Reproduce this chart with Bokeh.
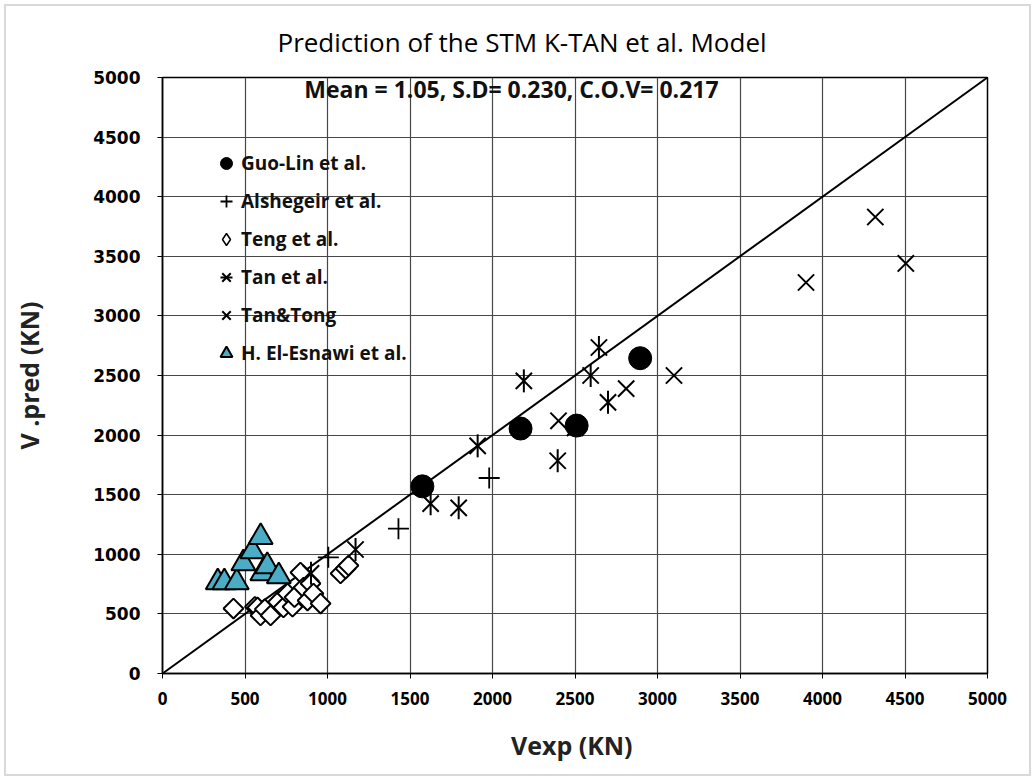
import math
from bokeh.plotting import figure
from bokeh.models import Legend, LegendItem, Label, FixedTicker
from bokeh.embed import file_html
from bokeh.resources import INLINE

# ---- data ----
guo_x = [1575, 2170, 2510, 2895]
guo_y = [1570, 2055, 2080, 2645]

als_x = [1005, 1430, 1980]
als_y = [975, 1215, 1640]

teng_x = [430, 560, 576, 594, 620, 655, 700, 733, 758, 788, 800, 836, 855, 879, 897, 915, 958, 1079, 1110, 1127]
teng_y = [545, 560, 554, 487, 540, 487, 600, 554, 671, 560, 640, 847, 721, 612, 755, 671, 587, 839, 880, 906]

tan_x = [900, 1170, 1625, 1795, 1910, 2190, 2395, 2595, 2645, 2700]
tan_y = [840, 1040, 1425, 1390, 1910, 2455, 1785, 2500, 2735, 2275]

tt_x = [2400, 2500, 2810, 3100, 3900, 4320, 4505]
tt_y = [2120, 2060, 2390, 2500, 3280, 3830, 3440]

esn_x = [335, 375, 450, 490, 545, 595, 605, 635, 705]
esn_y = [765, 765, 765, 925, 1025, 1145, 840, 900, 815]

diag_x = [0, 5000]
diag_y = [0, 5000]

ticks = [0, 500, 1000, 1500, 2000, 2500, 3000, 3500, 4000, 4500, 5000]

title_text = "Prediction of the STM K-TAN et al.  Model"
stats_text = "Mean = 1.05, S.D= 0.230, C.O.V= 0.217"

# page offset of the plot (margin + border)
OFF = 6

p = figure(width=1035 - 2 * OFF, height=780 - 2 * OFF, output_backend="svg", toolbar_location=None,
           x_range=(0, 5000), y_range=(0, 5000),
           frame_width=825, frame_height=596,
           min_border_left=162 - OFF, min_border_right=48 - OFF,
           min_border_top=77 - OFF, min_border_bottom=107 - OFF)
p.styles = {"border": "2px solid #d9d9d9", "margin": "4px"}

p.title.text = title_text
p.title.text_font = "Open Sans"
p.title.text_font_size = "26px"
p.title.text_font_style = "normal"
p.title.text_color = "black"
p.title.align = "left"
p.title.offset = 115
p.title.vertical_align = "middle"
p.title.standoff = 33

p.outline_line_color = "black"
p.outline_line_width = 1.5
for g in (p.xgrid, p.ygrid):
    g.grid_line_color = "#474747"
    g.grid_line_width = 1.2
    g.ticker = FixedTicker(ticks=ticks)

p.xaxis.ticker = FixedTicker(ticks=ticks)
p.yaxis.ticker = FixedTicker(ticks=ticks)
for ax in (p.xaxis, p.yaxis):
    ax.axis_line_color = "black"
    ax.axis_line_width = 1.5
    ax.major_tick_out = 5
    ax.major_tick_in = 0
    ax.minor_tick_out = 0
    ax.minor_tick_in = 0
    ax.major_tick_line_color = "black"
    ax.axis_label_text_font_style = "bold"
    ax.axis_label_text_font_size = "25px"
    ax.axis_label_text_font = "Open Sans"
    ax.axis_label_text_color = "#222222"
    ax.major_label_text_color = "black"

p.xaxis.axis_label = "Vexp  (KN)"
p.xaxis.major_label_text_font = "Open Sans"
p.xaxis.major_label_text_font_style = "bold"
p.xaxis.major_label_text_font_size = "17px"
p.xaxis.major_label_standoff = 13
p.xaxis.axis_label_standoff = 20

p.yaxis.axis_label = "V .pred (KN)"
p.yaxis.major_label_text_font = "DejaVu Sans"
p.yaxis.major_label_text_font_style = "bold"
p.yaxis.major_label_text_font_size = "17px"
p.yaxis.major_label_standoff = 17
p.yaxis.axis_label_standoff = 44

# 1:1 line
p.line(diag_x, diag_y, line_color="black", line_width=2)

# series
r_guo = p.scatter(guo_x, guo_y, marker="circle", size=23, fill_color="black", line_color="black")
r_als = p.scatter(als_x, als_y, marker="cross", size=21, line_color="black", line_width=1.8)
# small diamond glyph (hidden under the squares, used for the legend symbol)
r_teng_leg = p.scatter(teng_x, teng_y, marker="diamond", size=11, fill_color="white",
                       line_color="black", line_width=1.5)
r_teng = p.scatter(teng_x, teng_y, marker="square", angle=math.pi / 4, size=14,
                   fill_color="white", fill_alpha=1.0, line_color="black", line_width=2)
r_tan1 = p.scatter(tan_x, tan_y, marker="x", size=23, line_color="black", line_width=2)
r_tan2 = p.scatter(tan_x, tan_y, marker="dash", angle=math.pi / 2, size=23, line_color="black", line_width=2)
r_tt = p.scatter(tt_x, tt_y, marker="x", size=23, line_color="black", line_width=2)
r_esn = p.scatter(esn_x, esn_y, marker="triangle", size=24, fill_color="#4BACC6",
                  line_color="black", line_width=2)

legend = Legend(items=[
    LegendItem(label="Guo-Lin et al.", renderers=[r_guo]),
    LegendItem(label="Alshegeir et al.", renderers=[r_als]),
    LegendItem(label="Teng et al.", renderers=[r_teng_leg]),
    LegendItem(label="Tan et al.", renderers=[r_tan1, r_tan2]),
    LegendItem(label="Tan&Tong", renderers=[r_tt]),
    LegendItem(label="H. El-Esnawi et al.", renderers=[r_esn]),
], location=(49, 305))
legend.border_line_color = None
legend.background_fill_alpha = 0
legend.label_text_font = "Open Sans"
legend.label_text_font_style = "bold"
legend.label_text_font_size = "19px"
legend.label_text_color = "#111111"
legend.glyph_width = 30
legend.glyph_height = 30
legend.label_height = 30
legend.spacing = 8
legend.padding = 5
legend.margin = 0
legend.label_standoff = -9
p.add_layout(legend)

stats = Label(x=2115, y=4905, text=stats_text, text_align="center", text_baseline="middle",
              text_font="Open Sans", text_font_style="bold", text_font_size="23px", text_color="#111111")
p.add_layout(stats)

open("out.html", "w").write(file_html(p, INLINE))
